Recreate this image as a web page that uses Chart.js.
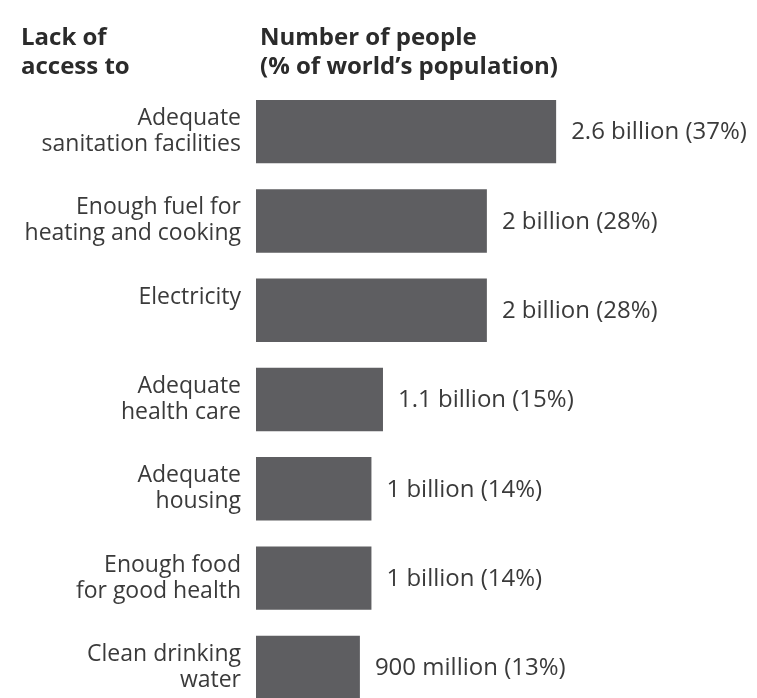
<!DOCTYPE html>
<html>
<head>
<meta charset="utf-8">
<script src="https://cdn.jsdelivr.net/npm/chart.js@4"></script>
<style>
  html, body { margin: 0; padding: 0; background: #fff; overflow: hidden; }
  #wrap { position: relative; width: 757px; height: 716px; }
  .head { position: absolute; font-family: "Open Sans", sans-serif; font-weight: bold;
          font-size: 24px; line-height: 29px; color: #2b2b2b; white-space: nowrap; }
</style>
</head>
<body>
<div id="wrap">
  <div class="head" style="left:21px; top:21px;">Lack of<br>access to</div>
  <div class="head" style="left:260px; top:21px;">Number of people<br>(% of world’s population)</div>
  <canvas id="grafico"></canvas>
</div>
<script>
// datos
const categorias = [
  ["Adequate", "sanitation facilities"],
  ["Enough fuel for", "heating and cooking"],
  ["Electricity", ""],
  ["Adequate", "health care"],
  ["Adequate", "housing"],
  ["Enough food", "for good health"],
  ["Clean drinking", "water"]
];
const personas = [2.6, 2, 2, 1.1, 1, 1, 0.9]; // miles de millones
const etiquetasValor = [
  "2.6 billion (37%)",
  "2 billion (28%)",
  "2 billion (28%)",
  "1.1 billion (15%)",
  "1 billion (14%)",
  "1 billion (14%)",
  "900 million (13%)"
];

// etiquetas a la derecha de cada barra
const etiquetasBarras = {
  id: "etiquetasBarras",
  afterDatasetsDraw(chart) {
    const ctx = chart.ctx;
    const meta = chart.getDatasetMeta(0);
    ctx.save();
    ctx.font = "24px 'Open Sans', sans-serif";
    ctx.fillStyle = "#3a3a3a";
    ctx.textBaseline = "middle";
    meta.data.forEach((bar, i) => {
      ctx.fillText(etiquetasValor[i], bar.x + 15, bar.y + 1);
    });
    ctx.restore();
  }
};

const grafico = document.getElementById("grafico");
new Chart(grafico, {
  type: "bar",
  data: {
    labels: categorias,
    datasets: [{
      data: personas,
      backgroundColor: "#5e5e61",
      barPercentage: 0.71,
      categoryPercentage: 1
    }]
  },
  options: {
    indexAxis: "y",
    responsive: true,
    maintainAspectRatio: false,
    animation: false,
    layout: { padding: { top: 87, bottom: 4, left: 0, right: 0 } },
    plugins: { legend: { display: false }, tooltip: { enabled: false } },
    scales: {
      x: { display: false, min: 0, max: 4.34 },
      y: {
        grid: { display: false },
        border: { display: false },
        afterFit(scale) {
          scale.width = 256;
          scale.paddingTop = 0;
          scale.paddingBottom = 0;
        },
        ticks: {
          padding: 7,
          color: "#3a3a3a",
          font: { family: "'Open Sans', sans-serif", size: 23, lineHeight: 1.13 }
        }
      }
    }
  },
  plugins: [etiquetasBarras]
});
</script>
</body>
</html>
